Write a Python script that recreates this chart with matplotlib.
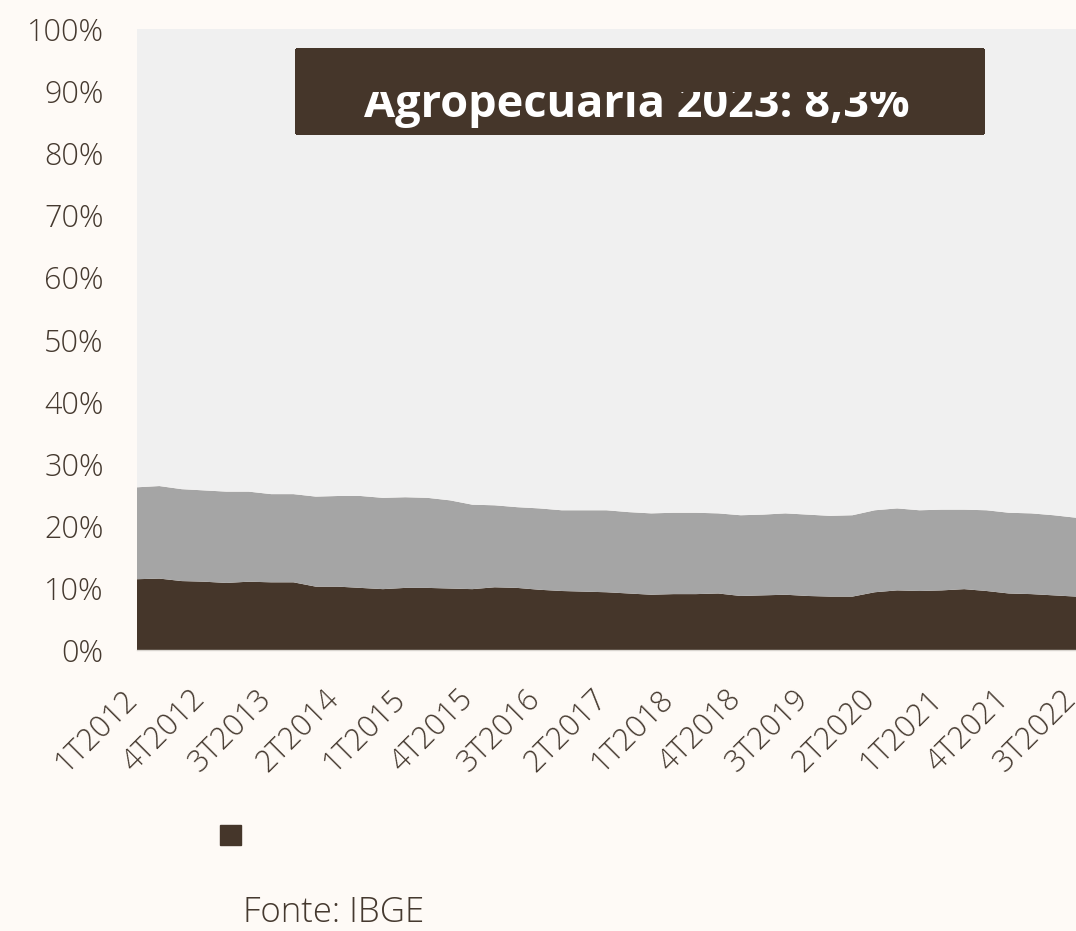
import numpy as np
import matplotlib.pyplot as plt
from matplotlib.patches import Rectangle, Patch
from matplotlib.transforms import ScaledTranslation

plt.rcParams['font.family'] = ['Open Sans', 'DejaVu Sans']

# quarters 1T2012 .. 3T2022
trimestres = [f"{q}T{y}" for y in range(2012, 2023) for q in range(1, 5)][:43]

# shares of GDP (%)
agro = [11.4, 11.5, 11.1, 11.0, 10.8, 11.0, 10.9, 10.9, 10.2, 10.2,
        10.0, 9.8, 10.0, 10.0, 9.9, 9.8, 10.1, 10.0, 9.7, 9.5,
        9.4, 9.3, 9.1, 8.9, 9.0, 9.0, 9.1, 8.7, 8.8, 8.9,
        8.7, 8.6, 8.6, 9.3, 9.6, 9.5, 9.6, 9.8, 9.5, 9.1,
        9.0, 8.8, 8.6]
industria = [14.8, 14.9, 14.8, 14.7, 14.7, 14.5, 14.2, 14.2, 14.5, 14.6,
             14.8, 14.7, 14.6, 14.5, 14.2, 13.6, 13.2, 13.0, 13.1, 13.0,
             13.1, 13.2, 13.1, 13.1, 13.1, 13.1, 12.9, 13.0, 13.0, 13.1,
             13.1, 13.0, 13.1, 13.2, 13.2, 13.0, 13.0, 12.8, 13.0, 13.0,
             13.0, 12.9, 12.7]
servicos = [73.8, 73.6, 74.1, 74.3, 74.5, 74.5, 74.9, 74.9, 75.3, 75.2,
            75.2, 75.5, 75.4, 75.5, 75.9, 76.6, 76.7, 77.0, 77.2, 77.5,
            77.5, 77.5, 77.8, 78.0, 77.9, 77.9, 78.0, 78.3, 78.2, 78.0,
            78.2, 78.4, 78.3, 77.5, 77.2, 77.5, 77.4, 77.4, 77.5, 77.9,
            78.0, 78.3, 78.7]

titulo = "Agropecuaria 2023: 8,3%"
fonte = "Fonte: IBGE"

brown = '#45362a'
gray = '#a5a5a5'
light = '#f0f0f0'
bg = '#fefaf6'
txt = '#45392f'

W, H = 1076, 931
fig = plt.figure(figsize=(W / 100, H / 100), dpi=100, facecolor=bg)
ax = fig.add_axes([137 / W, 1 - 650 / H, (W - 137) / W, (650 - 29) / H])
ax.set_facecolor(bg)

x = np.arange(len(trimestres))
ax.stackplot(x, np.array(agro) / 100, np.array(industria) / 100, np.array(servicos) / 100,
             colors=[brown, gray, light], linewidth=0)

ax.set_xlim(0, len(trimestres) - 1)
ax.set_ylim(0, 1)
ax.set_yticks(np.arange(0, 1.01, 0.1))
ax.set_yticklabels([f"{int(round(v * 100))}%" for v in np.arange(0, 1.01, 0.1)])
ax.set_xticks(x[::3])
ax.set_xticklabels(trimestres[::3], rotation=45, ha='right', va='top', rotation_mode='anchor')
ax.tick_params(axis='y', length=0, pad=24, labelsize=22, labelcolor=txt)
ax.tick_params(axis='x', length=0, pad=24, labelsize=22, labelcolor=txt)
shift = ScaledTranslation(-11 / 72, 0, fig.dpi_scale_trans)
for lab in ax.get_xticklabels():
    lab.set_transform(lab.get_transform() + shift)
for lab in ax.get_xticklabels() + ax.get_yticklabels():
    lab.set_fontweight('light')
for s in ['top', 'right', 'left']:
    ax.spines[s].set_visible(False)
ax.spines['bottom'].set_color('#d9d5d0')
ax.spines['bottom'].set_linewidth(1)

# title box (text overflowing the top of its box, as in the source)
def px(x0, y0, x1, y1):
    return (x0 / W, 1 - y1 / H, (x1 - x0) / W, (y1 - y0) / H)

bx, by, bw, bh = px(296, 49, 983, 133)
fig.add_artist(Rectangle((bx, by), bw, bh, transform=fig.transFigure, color=brown,
                         zorder=5, antialiased=False))
fig.text(637 / W, 1 - 117.5 / H, titulo, color='white', fontsize=32.5, fontweight='bold',
         ha='center', va='baseline', zorder=6)
cx, cy, cw, ch = px(296, 49, 983, 90)
fig.add_artist(Rectangle((cx, cy), cw, ch, transform=fig.transFigure, color=brown,
                         zorder=7, antialiased=False))

leg = fig.legend(handles=[Patch(color=brown)], labels=[''], loc='center left',
                 bbox_to_anchor=(195 / W, 1 - 838 / H), frameon=False,
                 handlelength=0.75, handleheight=0.75, fontsize=20)

fig.text(243 / W, 1 - 922 / H, fonte, color=txt, fontsize=25, fontweight='light',
         ha='left', va='baseline')

fig.savefig('out.png', dpi=100, facecolor=bg)
